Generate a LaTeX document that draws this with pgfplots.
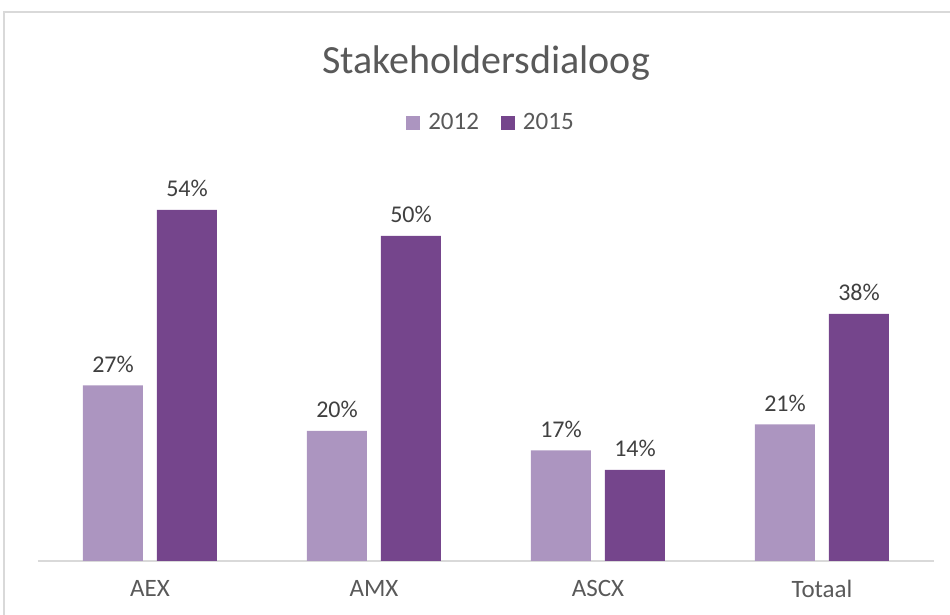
\documentclass[border=0pt]{standalone}
\usepackage{fontspec}
\setmainfont{Carlito}
\usepackage{pgfplots}
\pgfplotsset{compat=1.18}
\definecolor{lightpurple}{HTML}{AC95C0}
\definecolor{darkpurple}{HTML}{75458C}
\definecolor{txtgray}{HTML}{595959}
\definecolor{lblgray}{HTML}{404040}
\definecolor{linegray}{HTML}{D9D9D9}
\begin{document}
\begin{tikzpicture}
\path[use as bounding box] (0,0) rectangle (475pt,307.5pt);
\draw[linegray, line width=0.8pt] (2pt,-5pt) -- (2pt,301.5pt) -- (480pt,301.5pt);
\begin{axis}[
    at={(19pt,27pt)}, anchor=south west,
    scale only axis,
    width=448pt, height=195pt,
    ybar=7pt, bar width=30pt,
    xmin=-0.5, xmax=3.5,
    ymin=0, ymax=60,
    xtick=data,
    xticklabels={AEX, AMX, ASCX, Totaal},
    major tick length=0pt,
    axis y line=none,
    axis x line*=bottom,
    x axis line style={linegray, line width=1pt, -},
    ytick=\empty,
    xticklabel style={font=\fontsize{12.5}{15}\selectfont, text=txtgray, yshift=-6pt},
    /pgf/number format/assume math mode=true,
    nodes near coords={\pgfmathprintnumber{\pgfplotspointmeta}\%},
    every node near coord/.append style={font=\fontsize{12}{14}\selectfont, text=lblgray, yshift=3pt},
    title={Stakeholdersdialoog},
    title style={font=\fontsize{20}{24}\selectfont, text=txtgray, at={(0.5,1)}, anchor=center, yshift=48pt},
    legend columns=2,
    legend style={draw=none, fill=none, at={(0.5,1)}, anchor=center, yshift=24pt, xshift=3pt,
        font=\fontsize{12.5}{15}\selectfont, text=txtgray,
        /tikz/every odd column/.append style={column sep=2pt},
        /tikz/every even column/.append style={column sep=9pt}},
    legend image code/.code={\fill[#1] (0pt,-3.5pt) rectangle (7pt,3.5pt);},
]
\addplot[fill=lightpurple, draw=none] coordinates {(0,27) (1,20) (2,17) (3,21)};
\addplot[fill=darkpurple, draw=none] coordinates {(0,54) (1,50) (2,14) (3,38)};
\legend{2012, 2015}
\end{axis}
\end{tikzpicture}
\end{document}
